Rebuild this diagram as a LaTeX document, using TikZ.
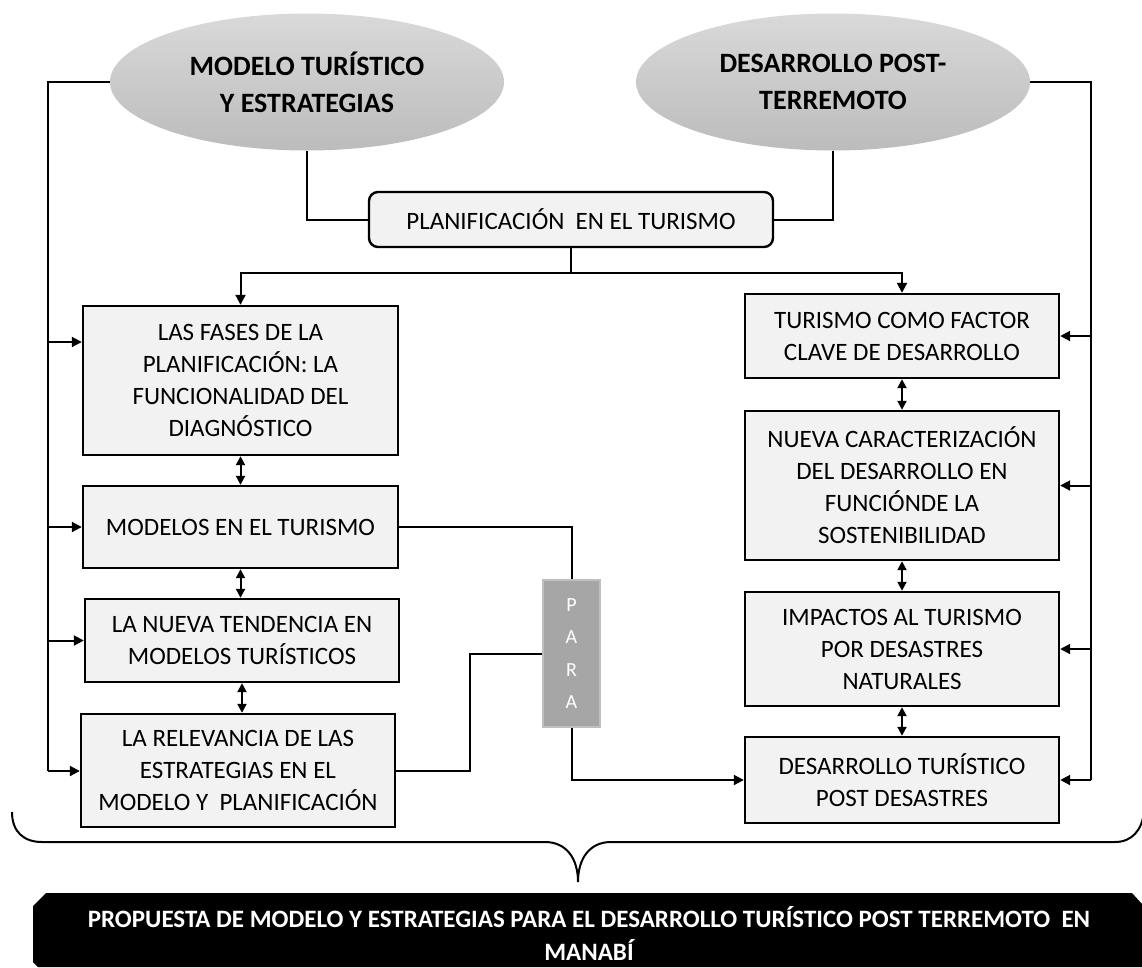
\documentclass[tikz,border=0pt]{standalone}
\usepackage{fontspec}
\setmainfont{Carlito}
\usetikzlibrary{arrows.meta,shapes.geometric,calc}
\definecolor{boxfill}{HTML}{F2F2F2}
\definecolor{elltop}{HTML}{D9D9D9}
\definecolor{ellbot}{HTML}{BCBCBC}
\definecolor{parafill}{HTML}{A6A6A6}
\definecolor{paraline}{HTML}{BFBFBF}
\begin{document}
\begin{tikzpicture}[x=1pt,y=-1pt,
  ell/.style={ellipse, minimum width=394pt, minimum height=137pt, inner sep=0pt,
    top color=elltop, bottom color=ellbot, draw=none, align=center,
    font=\fontsize{28}{37}\selectfont\bfseries},
  tbox/.style={draw=black, line width=2.4pt, fill=boxfill, inner sep=0pt, align=center,
    font=\fontsize{25}{32}\selectfont},
  conn/.style={line width=2pt, draw=black},
  arr/.style={conn, -{Triangle[length=10pt,width=10pt]}},
  darr/.style={conn, {Triangle[length=9pt,width=9pt]}-{Triangle[length=9pt,width=9pt]}}
]
\useasboundingbox (0,0) rectangle (1142,967);

% ellipses
\node[ell] (e1) at (307,82) {MODELO TURÍSTICO\\Y ESTRATEGIAS};
\node[ell] (e2) at (833,82) {DESARROLLO POST-\\TERREMOTO};

% planning box
\node[tbox, rounded corners=9pt, minimum width=404pt, minimum height=55pt] (plan) at (571,219.5)
  {PLANIFICACIÓN\ \ EN EL TURISMO};

% left boxes
\node[tbox, minimum width=315pt, minimum height=149pt] (L1) at (240.5,380.5)
  {LAS FASES DE LA\\PLANIFICACIÓN: LA\\FUNCIONALIDAD DEL\\DIAGNÓSTICO};
\node[tbox, minimum width=315pt, minimum height=82pt] (L2) at (240.5,527)
  {MODELOS EN EL TURISMO};
\node[tbox, minimum width=314pt, minimum height=83pt] (L3) at (242,640.5)
  {LA NUEVA TENDENCIA EN\\MODELOS TURÍSTICOS};
\node[tbox, minimum width=314pt, minimum height=113pt] (L4) at (238,770.5)
  {LA RELEVANCIA DE LAS\\ESTRATEGIAS EN EL\\MODELO Y\ \ PLANIFICACIÓN};

% right boxes
\node[tbox, minimum width=314pt, minimum height=84pt] (R1) at (902,336)
  {TURISMO COMO FACTOR\\CLAVE DE DESARROLLO};
\node[tbox, minimum width=314pt, minimum height=149pt] (R2) at (902,485.5)
  {NUEVA CARACTERIZACIÓN\\DEL DESARROLLO EN\\FUNCIÓNDE LA\\SOSTENIBILIDAD};
\node[tbox, minimum width=314pt, minimum height=114pt] (R3) at (902,649)
  {IMPACTOS AL TURISMO\\POR DESASTRES\\NATURALES};
\node[tbox, minimum width=314pt, minimum height=86pt] (R4) at (902,780)
  {DESARROLLO TURÍSTICO\\POST DESASTRES};

% PARA box
\node[draw=paraline, line width=1.2pt, fill=parafill, minimum width=57pt, minimum height=147pt,
  inner sep=0pt, align=center, text=white, font=\fontsize{20}{32.5}\selectfont] (para) at (571.5,653.5)
  {P\\A\\R\\A};

% ellipse to planning
\draw[conn] (e1.south) |- (plan.west);
\draw[conn] (e2.south) |- (plan.east);

% planning down
\coordinate (s) at (571,273);
\draw[conn] (plan.south) -- (s);
\draw[arr] (s) -| (L1.north);
\draw[arr] (s) -| (R1.north);

% left bus
\coordinate (lt) at (48,82);
\coordinate (lb) at (48,771);
\draw[conn] (e1.west) -- (lt) -- (lb);
\coordinate (la1) at (48,342);
\coordinate (la2) at (48,527);
\coordinate (la3) at (48,640.5);
\draw[arr] (la1) -- (la1 -| L1.west);
\draw[arr] (la2) -- (la2 -| L2.west);
\draw[arr] (la3) -- (la3 -| L3.west);
\draw[arr] (lb) -- (lb -| L4.west);

% right bus
\coordinate (rt) at (1091,82);
\coordinate (rb) at (1091,780);
\draw[conn] (e2.east) -- (rt) -- (rb);
\coordinate (ra1) at (1091,336);
\coordinate (ra2) at (1091,485.5);
\coordinate (ra3) at (1091,649);
\draw[arr] (ra1) -- (ra1 -| R1.east);
\draw[arr] (ra2) -- (ra2 -| R2.east);
\draw[arr] (ra3) -- (ra3 -| R3.east);
\draw[arr] (rb) -- (rb -| R4.east);

% double arrows
\draw[darr] (L1.south) -- (L1.south |- L2.north);
\draw[darr] (L2.south) -- (L2.south |- L3.north);
\draw[darr] (L3.south) -- (L3.south |- L4.north);
\draw[darr] (R1.south) -- (R2.north);
\draw[darr] (R2.south) -- (R3.north);
\draw[darr] (R3.south) -- (R4.north);

% PARA connectors
\draw[conn] (L2.east) -| (para.north);
\coordinate (pk) at (470,770.5);
\draw[conn] (L4.east) -- (pk) |- (para.west);
\draw[arr] (para.south) |- (R4.west);

% brace
\draw[line width=2pt] (12,812) .. controls (12,832) and (24,842) .. (42,842)
  -- (545,842) .. controls (566,842) and (578,858) .. (578,882)
  .. controls (578,858) and (590,842) .. (611,842)
  -- (1115,842) .. controls (1132,842) and (1142,830) .. (1144,812);

% bottom banner
\fill[black] (33,906) -- (46,893) -- (1132,893) -- (1142,904) -- (1142,967) -- (38,967) -- (33,962) -- cycle;
\node[text=white, align=center, inner sep=0pt, font=\fontsize{25}{33}\selectfont\bfseries] (bt) at (589,933.5)
  {PROPUESTA DE MODELO Y ESTRATEGIAS PARA EL DESARROLLO TURÍSTICO POST TERREMOTO\ \ EN\\MANABÍ};
\end{tikzpicture}
\end{document}
